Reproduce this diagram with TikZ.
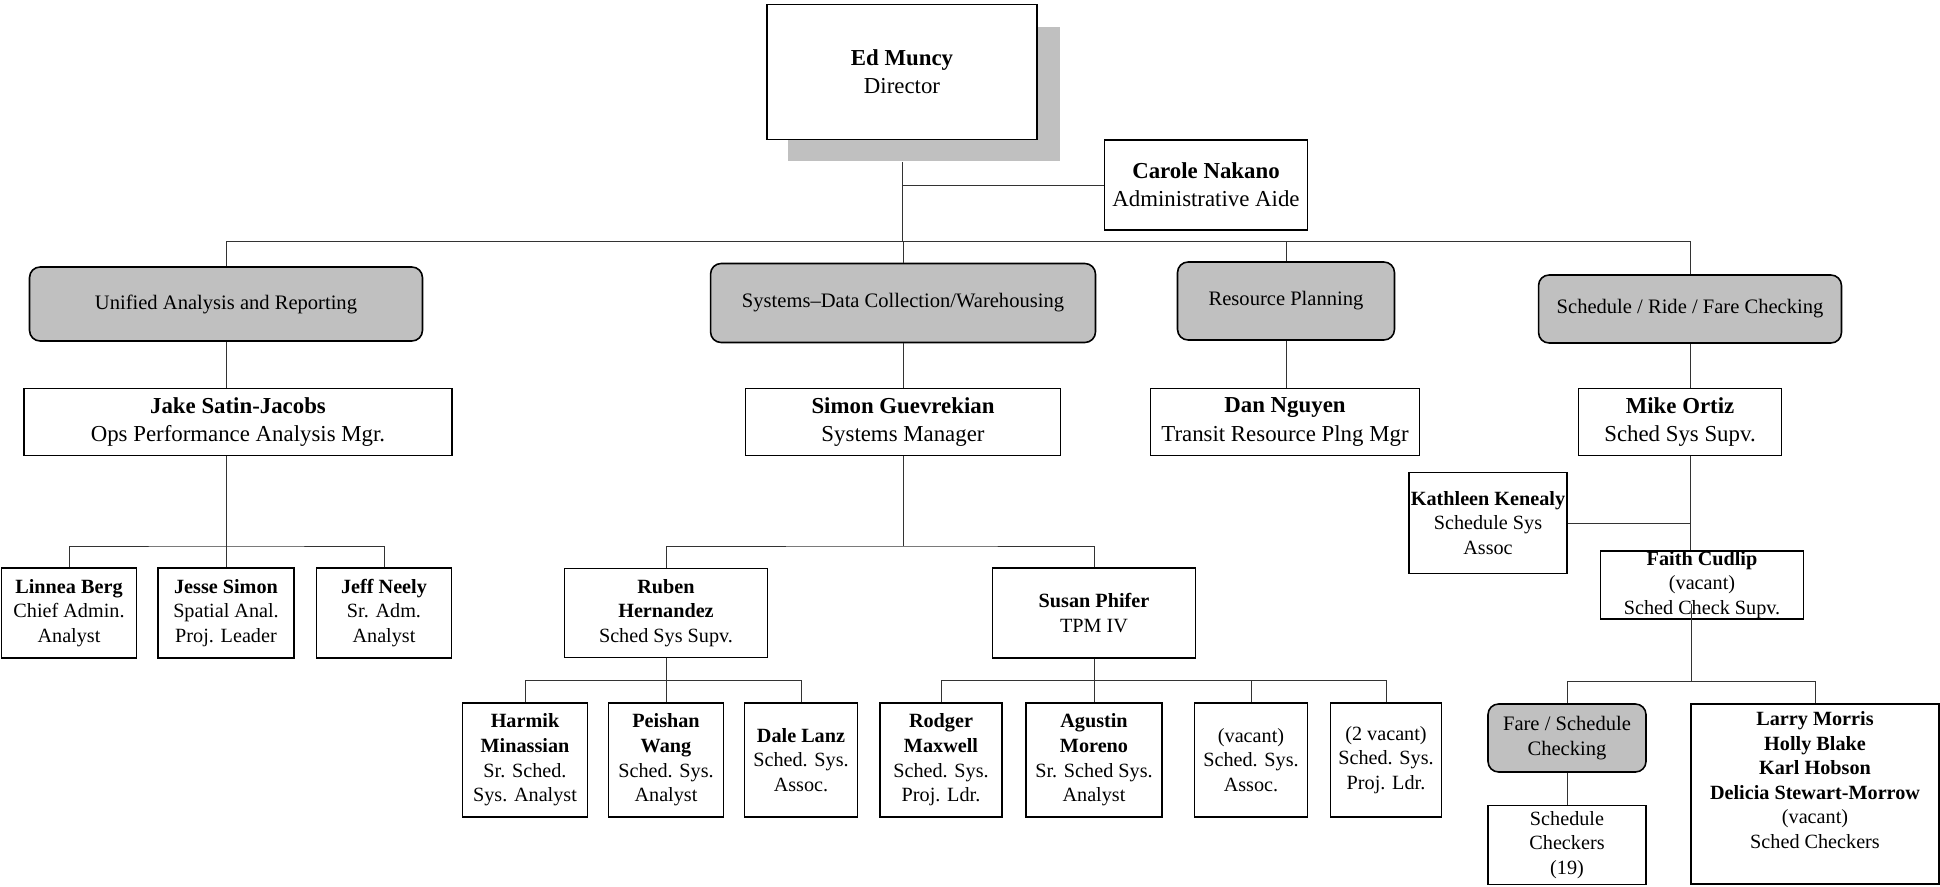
\documentclass[tikz,border=0pt]{standalone}
\usepackage{fontspec}
\setmainfont{Liberation Serif}
\definecolor{unitgray}{RGB}{192,192,192}

\begin{document}
\begin{tikzpicture}[x=0.02cm, y=-0.02cm,
  staffbox/.style={draw, fill=white, line width=0.9pt, align=center, inner sep=1pt, font=\fontsize{11.5}{14}\selectfont},
  mgrbox/.style={staffbox, font=\fontsize{13}{16}\selectfont},
  unitbox/.style={draw, fill=unitgray, line width=0.9pt, rounded corners=6pt, align=center, font=\fontsize{11.7}{14}\selectfont},
  orgline/.style={draw=black!80, line width=0.5pt}]
\useasboundingbox (0,0) rectangle (1940,886);

% director and aide
\node[fill=unitgray, minimum width=5.44cm, minimum height=2.7cm] (dirsh) at (924,94) {};
\node[mgrbox, minimum width=5.4cm, minimum height=2.7cm] (dir) at (902,72) {\textbf{Ed Muncy}\\Director};
\node[mgrbox, minimum width=4.06cm, minimum height=1.8cm] (carole) at (1206,185) {\textbf{Carole Nakano}\\Administrative Aide};

% units
\node[unitbox, minimum width=7.86cm, minimum height=1.48cm] (ua) at (226,304) {Unified Analysis and Reporting};
\node[unitbox, minimum width=7.7cm, minimum height=1.58cm] (sd) at (903,303) {Systems--Data Collection/Warehousing};
\node[unitbox, minimum width=4.34cm, minimum height=1.56cm] (rp) at (1286,301) {Resource Planning};
\node[unitbox, minimum width=6.06cm, minimum height=1.36cm] (sf) at (1690,309) {Schedule / Ride / Fare Checking};

% managers
\node[mgrbox, minimum width=8.56cm, minimum height=1.34cm] (jake) at (238,422) {\textbf{Jake Satin-Jacobs}\\Ops Performance Analysis Mgr.};
\node[mgrbox, minimum width=6.3cm, minimum height=1.34cm] (simon) at (903,422) {\textbf{Simon Guevrekian}\\Systems Manager};
\node[mgrbox, minimum width=5.38cm, minimum height=1.34cm] (dan) at (1285,422) {\textbf{Dan Nguyen}\\Transit Resource Plng Mgr};
\node[mgrbox, minimum width=4.06cm, minimum height=1.34cm] (mike) at (1680,422) {\textbf{Mike Ortiz}\\Sched Sys Supv.};

% analysis staff
\node[staffbox, minimum width=2.7cm, minimum height=1.8cm] (linnea) at (69,613) {\textbf{Linnea Berg}\\Chief Admin.\\Analyst};
\node[staffbox, minimum width=2.72cm, minimum height=1.8cm] (jesse) at (226,613) {\textbf{Jesse Simon}\\Spatial Anal.\\Proj. Leader};
\node[staffbox, minimum width=2.7cm, minimum height=1.8cm] (jeff) at (384,613) {\textbf{Jeff Neely}\\Sr. Adm.\\Analyst};

% systems supervisors
\node[staffbox, minimum width=4.06cm, minimum height=1.78cm] (ruben) at (666,613) {\textbf{Ruben}\\\textbf{Hernandez}\\Sched Sys Supv.};
\node[staffbox, minimum width=4.06cm, minimum height=1.8cm] (susan) at (1094,613) {\textbf{Susan Phifer}\\TPM IV};

% systems staff
\node[staffbox, minimum width=2.5cm, minimum height=2.28cm] (harmik) at (525,760) {\textbf{Harmik}\\\textbf{Minassian}\\Sr. Sched.\\Sys. Analyst};
\node[staffbox, minimum width=2.3cm, minimum height=2.28cm] (peishan) at (666,760) {\textbf{Peishan}\\\textbf{Wang}\\Sched. Sys.\\Analyst};
\node[staffbox, minimum width=2.26cm, minimum height=2.28cm] (dale) at (801,760) {\textbf{Dale Lanz}\\Sched. Sys.\\Assoc.};
\node[staffbox, minimum width=2.44cm, minimum height=2.28cm] (rodger) at (941,760) {\textbf{Rodger}\\\textbf{Maxwell}\\Sched. Sys.\\Proj. Ldr.};
\node[staffbox, minimum width=2.72cm, minimum height=2.28cm] (agustin) at (1094,760) {\textbf{Agustin}\\\textbf{Moreno}\\Sr. Sched Sys.\\Analyst};
\node[staffbox, minimum width=2.26cm, minimum height=2.28cm] (vacassoc) at (1251,760) {(vacant)\\Sched. Sys.\\Assoc.};
\node[staffbox, minimum width=2.22cm, minimum height=2.28cm] (vacldr) at (1386,760) {(2 vacant)\\Sched. Sys.\\Proj. Ldr.};

% checking
\node[staffbox, minimum width=3.16cm, minimum height=2.02cm] (kathleen) at (1488,523) {\textbf{Kathleen Kenealy}\\Schedule Sys\\Assoc};
\node[staffbox, inner ysep=0pt, minimum width=4.06cm, minimum height=1.34cm] (faith) at (1702,585) {\textbf{Faith Cudlip}\\(vacant)\\Sched Check Supv.};
\node[unitbox, minimum width=3.16cm, minimum height=1.36cm] (fare) at (1567,738) {Fare / Schedule\\Checking};
\node[staffbox, minimum width=3.16cm, minimum height=1.58cm] (checkers) at (1567,845) {Schedule\\Checkers\\(19)};
\node[staffbox, minimum width=4.96cm, minimum height=3.6cm] (larry) at (1815,794) {\textbf{Larry Morris}\\\textbf{Holly Blake}\\\textbf{Karl Hobson}\\\textbf{Delicia Stewart-Morrow}\\(vacant)\\Sched Checkers\\[2pt]\mbox{}};

% bars
\coordinate (bus) at (903,241);
\coordinate (jbar) at (226,546);
\coordinate (sbar) at (903,546);
\coordinate (rbar) at (666,680);
\coordinate (pbar) at (1094,680);
\coordinate (fbar) at (1691,681);
\path (faith.south -| fbar) ++(0,-16) coordinate (fdrop);

% lines
\draw[orgline] (dir.south |- dirsh.south) -- (dir.south |- bus);
\draw[orgline] (carole.west) -- (carole.west -| dir.south);
\draw[orgline] (ua.north) |- (sf.north |- bus) -- (sf.north);
\draw[orgline] (sd.north) -- (sd.north |- bus);
\draw[orgline] (rp.north) -- (rp.north |- bus);
\draw[orgline] (ua.south) -- (ua.south |- jake.north);
\draw[orgline] (sd.south) -- (simon.north);
\draw[orgline] (rp.south) -- (rp.south |- dan.north);
\draw[orgline] (sf.south) -- (sf.south |- mike.north);
\draw[orgline] (jesse.north) -- (jesse.north |- jake.south);
\draw[orgline] (linnea.north) |- (jbar) -| (jeff.north);
\draw[orgline] (simon.south) -- (sbar);
\draw[orgline] (ruben.north) |- (sbar) -| (susan.north);
\draw[orgline] (ruben.south) -- (peishan.north);
\draw[orgline] (harmik.north) |- (rbar) -| (dale.north);
\draw[orgline] (susan.south) -- (agustin.north);
\draw[orgline] (rodger.north) |- (pbar) -| (vacldr.north);
\draw[orgline] (vacassoc.north) -- (vacassoc.north |- pbar);
\draw[orgline] (sf.south |- mike.south) -- (sf.south |- faith.north);
\draw[orgline] (kathleen.east) -- (kathleen.east -| fbar);
\draw[orgline] (fdrop) -- (fbar);
\draw[orgline] (fare.north) |- (fbar) -| (larry.north);
\draw[orgline] (fare.south) -- (checkers.north);
\end{tikzpicture}
\end{document}
